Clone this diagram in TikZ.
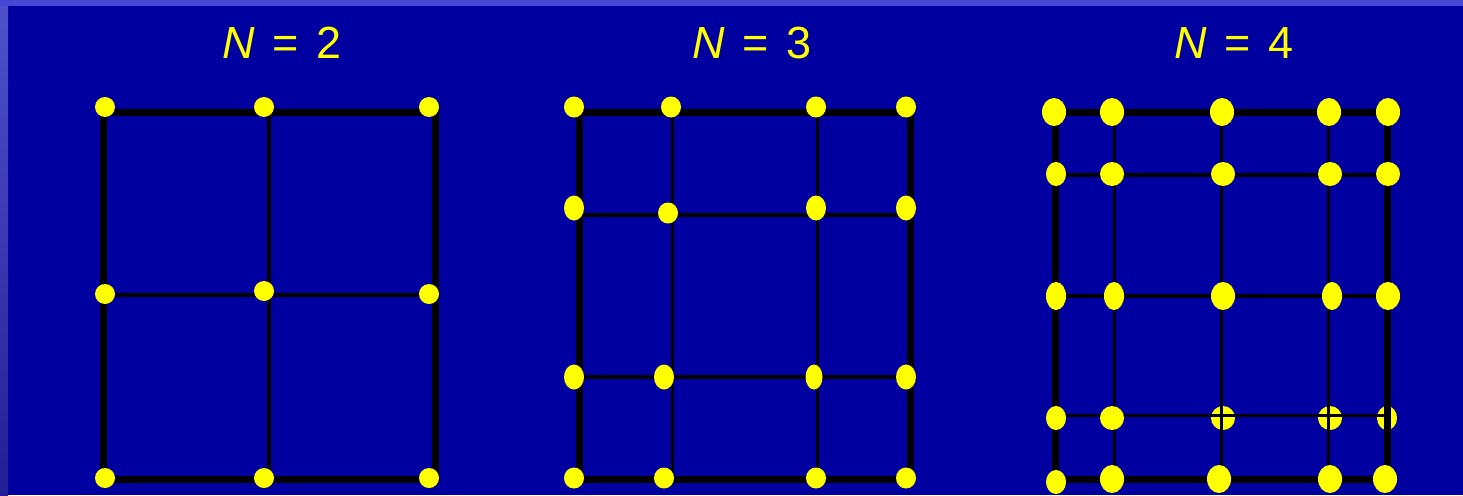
\documentclass[tikz,border=0pt]{standalone}
\usepackage{fontspec}
\setmainfont{Liberation Sans}
\definecolor{bgblue}{RGB}{0,0,160}
\definecolor{edgetop}{RGB}{70,70,215}
\definecolor{edgeleftA}{RGB}{80,80,205}
\definecolor{edgeleftB}{RGB}{35,30,150}
\definecolor{dotyellow}{RGB}{255,255,0}
\newcommand{\ttl}[1]{\textit{N}\hspace{0.4em}=\hspace{0.4em}#1}
\begin{document}
\begin{tikzpicture}[x=1pt,y=-1pt,
  outerline/.style={line width=7pt, draw=black},
  innerline/.style={line width=3.5pt, draw=black},
  dot/.style={fill=dotyellow},
  title/.style={text=dotyellow, font=\fontsize{45}{54}\selectfont, anchor=base, inner sep=0pt}]
\useasboundingbox (0,0) rectangle (1463,495);
\fill[bgblue] (0,0) rectangle (1463,495);
\shade[top color=edgeleftA, bottom color=edgeleftB] (0,0) rectangle (8,495);
\fill[edgetop] (0,0) rectangle (1463,6);

% titles
\node[title] (t2) at (282,59) {\ttl{2}};
\node[title] (t3) at (752,59) {\ttl{3}};
\node[title] (t4) at (1234,59) {\ttl{4}};

% ---------- N = 2 ----------
\draw[innerline] (269,112.5) -- (269,479.5);
\draw[innerline] (103.5,295) -- (435,295);
\draw[outerline] (103.5,112.5) rectangle (435,479.5);
\foreach \x/\y in {105/107,264/107,429/107,105/294,264/291,429/294,105/478,264/478,429/478}
  \fill[dot] (\x,\y) circle (10);

% ---------- N = 3 ----------
\draw[innerline] (672.5,112) -- (672.5,479.5);
\draw[innerline] (817.5,112) -- (817.5,479.5);
\draw[innerline] (579.5,215) -- (910,215);
\draw[innerline] (579.5,377) -- (910,377);
\draw[outerline] (579.5,112) rectangle (910,479.5);
\foreach \x/\y/\rx/\ry in {574/107/10/10.5,671/107/10/10.5,816/107/10/10.5,906/107/10/10.5,
  574/208/10/12.5,668/213/10/10.5,816/208/10/12.5,906/208/10/12.5,
  574/377/10/12.5,664/377/10/12.5,814/377/8.5/12.5,906/377/10/12.5,
  574/478/10/10.5,664/478/10/10.5,816/478/10/10.5,906/478/10/10.5}
  \fill[dot] (\x,\y) ellipse ({\rx} and {\ry});

% ---------- N = 4 ----------
\foreach \x/\y/\rx/\ry in {1223/418/12/12,1330/418/12/12,1387/418/10/12}
  \fill[dot] (\x,\y) ellipse ({\rx} and {\ry});
\draw[innerline] (1114.5,112) -- (1114.5,479.5);
\draw[innerline] (1221.5,112) -- (1221.5,479.5);
\draw[innerline] (1328.5,112) -- (1328.5,479.5);
\draw[innerline] (1055.5,175) -- (1387,175);
\draw[innerline] (1055.5,296) -- (1387,296);
\draw[innerline] (1055.5,415.5) -- (1387,415.5);
\draw[outerline] (1055.5,112) rectangle (1387,479.5);
\foreach \x/\y/\rx/\ry in {1054/112/12/14,1112/112/12/14,1222/112/12/14,1329/112/12/14,1388/112/12/14,
  1056/174/10/12,1112/174/12/12,1223/174/12/12,1330/174/12/12,1388/174/12/12,
  1056/296/10/14,1114/296/10/14,1223/296/12/14,1332/296/10/14,1388/296/12/14,
  1056/418/10/12,1112/418/12/12,
  1056/482/10/12,1112/479/12/14,1219/479/12/14,1330/479/12/14,1385/479/12/14}
  \fill[dot] (\x,\y) ellipse ({\rx} and {\ry});
\end{tikzpicture}
\end{document}
